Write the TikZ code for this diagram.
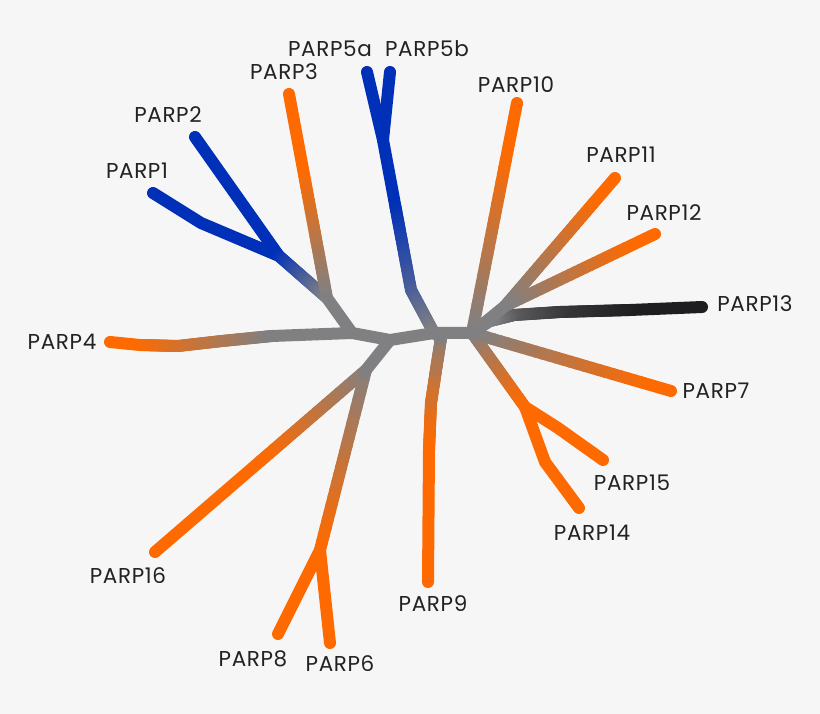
\documentclass[tikz,border=0pt]{standalone}
\usepackage{fontspec}
\setmainfont{Poppins}[LetterSpace=3]
\usetikzlibrary{calc}

\definecolor{parporange}{RGB}{255,106,0}
\definecolor{parpblue}{RGB}{0,48,184}
\definecolor{parpgray}{RGB}{128,128,130}
\definecolor{parpdark}{RGB}{30,30,32}
\definecolor{parpbg}{RGB}{246,246,246}
\definecolor{parptext}{RGB}{34,34,34}
\colorlet{parpamber}{parporange!70!parpgray}
\colorlet{parptan}{parporange!40!parpgray}
\colorlet{parpslate}{parpblue!45!parpgray}
\colorlet{parpcharcoal}{parpdark!75!parpgray}
\colorlet{parpsteel}{parpdark!40!parpgray}

\tikzset{
	branch/.style={line width=12pt, line cap=round, line join=round},
	parplabel/.style={text=parptext, font=\fontsize{21.5}{25}\selectfont, inner sep=0pt},
}

% gradient stroke from #1 to #2, colour #3 -> #4
\newcommand{\gradline}[4]{%
	\foreach \k in {1,...,24}{%
		\pgfmathsetmacro{\ta}{(\k-1)/24}%
		\pgfmathsetmacro{\tb}{\k/24}%
		\pgfmathtruncatemacro{\p}{100-100*(\k-0.5)/24}%
		\draw[branch, color=#3!\p!#4] ($(#1)!\ta!(#2)$) -- ($(#1)!\tb!(#2)$);
	}%
}

\begin{document}
\begin{tikzpicture}[x=1pt,y=-1pt]
	\fill[parpbg] (0,0) rectangle (820,714);
	\useasboundingbox (0,0) rectangle (820,714);

	%Branch points
	\coordinate (J_12) at (279,256);
	\coordinate (J_123) at (327,298);
	\coordinate (J_l) at (352,333);
	\coordinate (J_d) at (390,340);
	\coordinate (J_c) at (434,333);
	\coordinate (J_r) at (472,333);
	\coordinate (J_5) at (383,140);
	\coordinate (J_5m) at (411,290);
	\coordinate (J_1112) at (505,306);
	\coordinate (J_1415) at (525,407);
	\coordinate (J_15b) at (558,428);
	\coordinate (J_14b) at (545,462);
	\coordinate (J_1686) at (366,370);
	\coordinate (J_86) at (320,550);

	%Bends
	\coordinate (b_13a) at (490,321);
	\coordinate (b_13b) at (514,315);
	\coordinate (b_13c) at (560,312);
	\coordinate (b_13d) at (630,310);
	\coordinate (b_9a) at (441,338);
	\coordinate (b_9b) at (436,370);
	\coordinate (b_9c) at (431,403);
	\coordinate (b_9d) at (429,450);
	\coordinate (b_4a) at (140,345);
	\coordinate (b_4b) at (178,346);
	\coordinate (b_4c) at (222,341);
	\coordinate (b_4d) at (272,336);

	%Tips
	\coordinate (t_1) at (153,193);
	\coordinate (t_1b) at (201,223);
	\coordinate (t_2) at (195,137);
	\coordinate (t_3) at (289,94);
	\coordinate (t_5a) at (367,72);
	\coordinate (t_5b) at (390,72);
	\coordinate (t_10) at (517,103);
	\coordinate (t_11) at (615,178);
	\coordinate (t_12) at (655,234);
	\coordinate (t_13) at (702,307);
	\coordinate (t_7) at (671,391);
	\coordinate (t_15) at (603,460);
	\coordinate (t_14) at (579,508);
	\coordinate (t_9) at (428,582);
	\coordinate (t_6) at (330,643);
	\coordinate (t_8) at (278,634);
	\coordinate (t_16) at (155,552);
	\coordinate (t_4) at (110,342);

	%Where the colour starts to fade
	\coordinate (m_3) at ($(t_3)!0.4!(J_123)$);
	\coordinate (m_5) at ($(J_5)!0.45!(J_5m)$);
	\coordinate (m_10) at ($(t_10)!0.25!(J_r)$);
	\coordinate (m_11) at ($(t_11)!0.2!(J_1112)$);
	\coordinate (m_12) at ($(t_12)!0.2!(J_1112)$);
	\coordinate (m_7) at ($(t_7)!0.15!(J_r)$);
	\coordinate (m_16) at ($(J_1686)!0.5!(t_16)$);

	%Labels
	\begin{scope}[every node/.style={parplabel}]
		\node (l_1) at (137,171) {PARP1};
		\node (l_2) at (168,115) {PARP2};
		\node (l_3) at (284,72) {PARP3};
		\node (l_5a) at (330,49) {PARP5a};
		\node (l_5b) at (427,49) {PARP5b};
		\node (l_10) at (516,85) {PARP10};
		\node (l_11) at (621,155) {PARP11};
		\node (l_12) at (664,213) {PARP12};
		\node (l_13) at (755,304) {PARP13};
		\node (l_7) at (716,391) {PARP7};
		\node (l_15) at (632,483) {PARP15};
		\node (l_14) at (592,533) {PARP14};
		\node (l_9) at (433,604) {PARP9};
		\node (l_6) at (340,664) {PARP6};
		\node (l_8) at (253,659) {PARP8};
		\node (l_16) at (128,576) {PARP16};
		\node (l_4) at (62,342) {PARP4};
	\end{scope}

	%Blue branches
	\draw[branch, parpblue] (t_1) -- (t_1b) -- (J_12);
	\draw[branch, parpblue] (t_2) -- (J_12);
	\gradline{J_12}{J_123}{parpblue}{parpgray}
	\draw[branch, parpblue] (t_5a) -- (J_5);
	\draw[branch, parpblue] (t_5b) -- (J_5);
	\draw[branch, parpblue] (J_5) -- (m_5);
	\gradline{m_5}{J_5m}{parpblue}{parpslate}
	\gradline{J_5m}{J_c}{parpslate}{parpgray}

	%Orange branches, left
	\draw[branch, parporange] (t_3) -- (m_3);
	\gradline{m_3}{J_123}{parporange}{parpgray}
	\draw[branch, parporange] (t_4) -- (b_4a);
	\gradline{b_4a}{b_4b}{parporange}{parpamber}
	\gradline{b_4b}{b_4c}{parpamber}{parptan}
	\gradline{b_4c}{b_4d}{parptan}{parpgray}
	\draw[branch, parpgray] (b_4d) -- (J_l);

	%Orange branches, bottom
	\draw[branch, parporange] (m_16) -- (t_16);
	\gradline{J_1686}{m_16}{parpgray}{parporange}
	\draw[branch, parporange] (J_86) -- (t_8);
	\draw[branch, parporange] (J_86) -- (t_6);
	\gradline{J_1686}{J_86}{parpgray}{parporange}
	\draw[branch, parporange] (b_9d) -- (t_9);
	\gradline{b_9c}{b_9d}{parpamber}{parporange}
	\gradline{b_9b}{b_9c}{parptan}{parpamber}
	\gradline{b_9a}{b_9b}{parpgray}{parptan}
	\draw[branch, parpgray] (J_c) -- (b_9a);

	%Right branches
	\draw[branch, parporange] (J_1415) -- (J_15b) -- (t_15);
	\draw[branch, parporange] (J_1415) -- (J_14b) -- (t_14);
	\gradline{J_r}{J_1415}{parpgray}{parporange}
	\draw[branch, parporange] (t_7) -- (m_7);
	\gradline{m_7}{J_r}{parporange}{parpgray}
	\draw[branch, parpdark] (t_13) -- (b_13d);
	\gradline{b_13d}{b_13c}{parpdark}{parpcharcoal}
	\gradline{b_13c}{b_13b}{parpcharcoal}{parpsteel}
	\gradline{b_13b}{b_13a}{parpsteel}{parpgray}
	\draw[branch, parpgray] (b_13a) -- (J_r);
	\draw[branch, parporange] (t_11) -- (m_11);
	\gradline{m_11}{J_1112}{parporange}{parpgray}
	\draw[branch, parporange] (t_12) -- (m_12);
	\gradline{m_12}{J_1112}{parporange}{parpgray}
	\draw[branch, parpgray] (J_1112) -- (J_r);
	\draw[branch, parporange] (t_10) -- (m_10);
	\gradline{m_10}{J_r}{parporange}{parpgray}

	%Backbone
	\draw[branch, parpgray] (J_123) -- (J_l) -- (J_d) -- (J_c) -- (J_r);
	\draw[branch, parpgray] (J_d) -- (J_1686);
\end{tikzpicture}
\end{document}
